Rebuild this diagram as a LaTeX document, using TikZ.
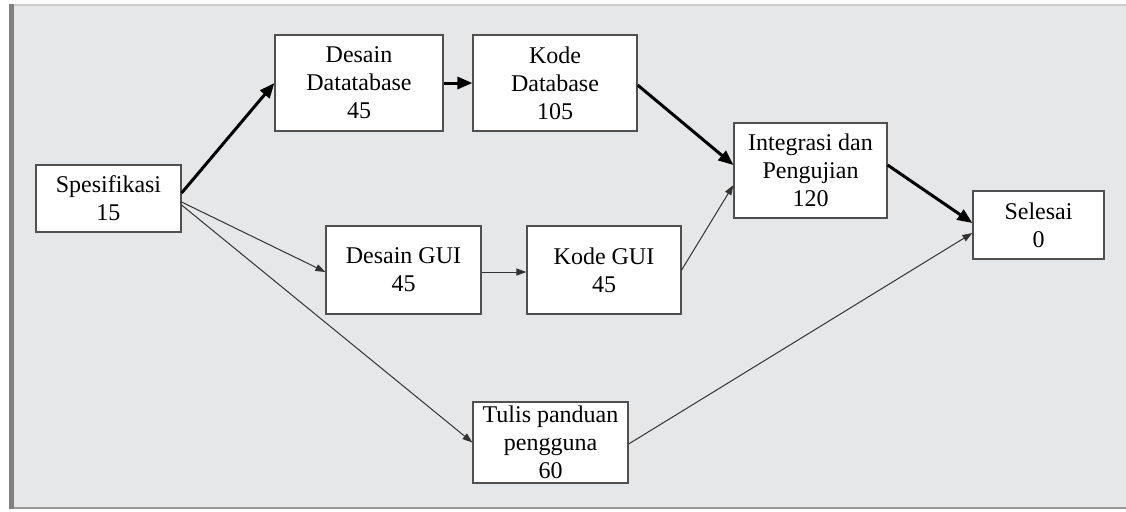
\documentclass[tikz,border=0pt]{standalone}
\usepackage{fontspec}
\setmainfont{Liberation Serif}
\usetikzlibrary{arrows.meta}
\definecolor{panel}{HTML}{E6E7E9}
\definecolor{edge}{HTML}{505050}
\begin{document}
\begin{tikzpicture}[x=0.5pt,y=-0.5pt,
        task/.style={draw=edge,line width=0.6pt,fill=white,align=center,inner sep=0pt,font=\fontsize{12}{14}\selectfont},
        crit/.style={line width=1.5pt,-{Triangle[length=7.5pt,width=6pt]}},
        flow/.style={line width=0.5pt,draw=black!80,-{Triangle[length=5pt,width=3.5pt]}}]
        \useasboundingbox (0,0) rectangle (1126,511);
        \fill[panel] (11,5) rectangle (1126,508);
        \draw[gray!40,line width=1pt] (11,5) -- (1126,5);
        \draw[gray!80,line width=1pt] (11,508) -- (1126,508);
        \draw[gray,line width=2.5pt] (11,4) -- (11,509);
        \node[task,minimum width=72.5pt,minimum height=33.5pt] (spes) at (108.5,198.5) {Spesifikasi\\15};
        \node[task,minimum width=84pt,minimum height=48pt] (ddb) at (359,83) {Desain\\Datatabase\\45};
        \node[task,minimum width=82pt,minimum height=48pt] (kdb) at (555,83) {Kode\\Database\\105};
        \node[task,minimum width=76.5pt,minimum height=47.5pt] (integ) at (810.5,170.5) {Integrasi dan\\Pengujian\\120};
        \node[task,minimum width=65.5pt,minimum height=34pt] (selesai) at (1038.5,225) {Selesai\\0};
        \node[task,minimum width=77.5pt,minimum height=44pt] (dgui) at (403.5,270) {Desain GUI\\45};
        \node[task,minimum width=77pt,minimum height=44pt] (kgui) at (604,270) {Kode GUI\\45};
        \node[task,minimum width=77.5pt,minimum height=40.5pt] (tulis) at (550.5,442.5) {Tulis panduan\\pengguna\\60};
        \draw[crit] ([yshift=2.75pt]spes.east) -- (ddb.west);
        \draw[crit] (ddb.east) -- (kdb.west);
        \draw[crit] ([yshift=-1pt]kdb.east) -- ([yshift=2.75pt]integ.west);
        \draw[crit] ([yshift=2.75pt]integ.east) -- ([yshift=1pt]selesai.west);
        \draw[flow] ([yshift=-1.75pt]spes.east) -- ([yshift=-1pt]dgui.west);
        \draw[flow] ([yshift=-3.25pt]spes.east) -- (tulis.west);
        \draw[flow] ([yshift=-1pt]dgui.east) -- ([yshift=-1pt]kgui.west);
        \draw[flow] (kgui.east) -- ([yshift=-7.25pt]integ.west);
        \draw[flow] ([yshift=-0.75pt]tulis.east) -- ([yshift=-4pt]selesai.west);
\end{tikzpicture}
\end{document}
